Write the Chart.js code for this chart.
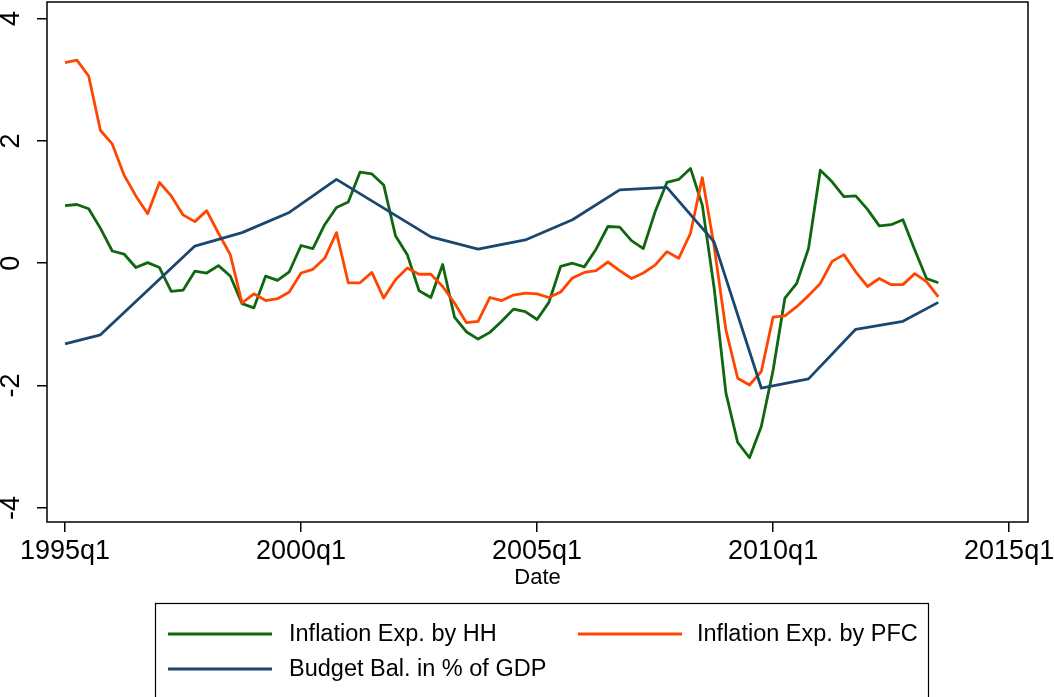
<!DOCTYPE html>
<html>
<head>
<meta charset="utf-8">
<script src="https://cdn.jsdelivr.net/npm/chart.js@4.4.1/dist/chart.umd.min.js"></script>
<style>
  html, body { margin: 0; padding: 0; background: #fff; }
  #wrap { width: 1054px; height: 697px; position: relative; }
</style>
</head>
<body>
<div id="wrap"><canvas id="myChart"></canvas></div>
<script>
// quarters counted from 1995q1 (0 = 1995q1, 4 = 1996q1, ...)
const START_YEAR = 1995;

const xTicks      = [0, 20, 40, 60, 80];
const xTickLabels = ['1995q1', '2000q1', '2005q1', '2010q1', '2015q1'];
const yTicks      = [-4, -2, 0, 2, 4];

// Inflation expectations by households, quarterly 1995q1 - 2013q3
const hhValues = [
   0.94,  0.96,  0.89,  0.57,  0.20,  0.15, -0.07,  0.01, -0.07, -0.46,
  -0.44, -0.13, -0.16, -0.04, -0.21, -0.66, -0.73, -0.21, -0.28, -0.14,
   0.29,  0.24,  0.63,  0.91,  1.00,  1.49,  1.46,  1.28,  0.45,  0.14,
  -0.45, -0.56, -0.02, -0.88, -1.12, -1.24, -1.13, -0.95, -0.75, -0.79,
  -0.92, -0.64, -0.05,  0.00, -0.06,  0.23,  0.60,  0.59,  0.37,  0.24,
   0.84,  1.32,  1.37,  1.55,  0.95, -0.40, -2.12, -2.93, -3.18, -2.67,
  -1.75, -0.57, -0.33,  0.24,  1.52,  1.33,  1.09,  1.10,  0.88,  0.61,
   0.63,  0.71,  0.22, -0.25, -0.32
];

// Inflation expectations by professional forecasters, same quarters
const pfcValues = [
   3.28,  3.32,  3.06,  2.17,  1.95,  1.44,  1.10,  0.81,  1.32,  1.10,
   0.79,  0.68,  0.86,  0.49,  0.14, -0.65, -0.50, -0.61, -0.58, -0.47,
  -0.16, -0.10,  0.08,  0.50, -0.32, -0.32, -0.15, -0.57, -0.27, -0.08,
  -0.18, -0.18, -0.38, -0.65, -0.97, -0.95, -0.56, -0.61, -0.52, -0.49,
  -0.50, -0.56, -0.47, -0.24, -0.15, -0.12,  0.02, -0.12, -0.25, -0.16,
  -0.03,  0.19,  0.08,  0.49,  1.40,  0.28, -1.09, -1.88, -1.99, -1.77,
  -0.88, -0.86, -0.71, -0.53, -0.33,  0.03,  0.14, -0.14, -0.38, -0.25,
  -0.35, -0.35, -0.17, -0.30, -0.55
];

// Budget balance in % of GDP, only observed at these quarters
const budgetQuarters = [0, 3, 11, 15, 19, 23, 31, 35, 39, 43, 47, 51, 55, 59, 63, 67, 71, 74];
const budgetValues   = [-1.32, -1.17, 0.28, 0.50, 0.83, 1.37, 0.43, 0.23, 0.38, 0.71,
                        1.20, 1.24, 0.35, -2.04, -1.89, -1.08, -0.95, -0.64];

const GREEN  = '#0f670f';
const ORANGE = '#ff4500';
const NAVY   = '#1a476f';
const FONT   = "'Liberation Sans', Arial, Helvetica, sans-serif";

function toPoints(values){
    return values.map((v, i) => ({x: i, y: v}));
}

function quarterLabel(q){
    let idx = xTicks.indexOf(q);
    if (idx >= 0) return xTickLabels[idx];
    return (START_YEAR + Math.floor(q / 4)) + 'q' + (q % 4 + 1);
}

// plot region outline (Stata style box)
const frame = {
    id: 'frame',
    afterDatasetsDraw(chart){
        const {ctx, chartArea: a} = chart;
        ctx.save();
        ctx.strokeStyle = '#000';
        ctx.lineWidth = 1.5;
        ctx.strokeRect(a.left, a.top, a.right - a.left, a.bottom - a.top);
        ctx.restore();
    }
};

// legend box below the plot, two columns
const boxLegend = {
    id: 'boxLegend',
    afterDraw(chart){
        const ctx = chart.ctx;
        const sets = chart.data.datasets;
        const slots = [
            {x: 168, y: 634, tx: 289},
            {x: 578, y: 634, tx: 697},
            {x: 168, y: 669, tx: 289}
        ];
        ctx.save();
        ctx.strokeStyle = '#000';
        ctx.lineWidth = 1.2;
        ctx.strokeRect(155.5, 603.5, 773, 110);
        ctx.font = '23.5px ' + FONT;
        ctx.textBaseline = 'middle';
        ctx.textAlign = 'left';
        sets.forEach((ds, i) => {
            let s = slots[i];
            ctx.strokeStyle = ds.borderColor;
            ctx.lineWidth = 2.8;
            ctx.beginPath();
            ctx.moveTo(s.x, s.y);
            ctx.lineTo(s.x + 104, s.y);
            ctx.stroke();
            ctx.fillStyle = '#000';
            ctx.fillText(ds.label, s.tx, s.y + 1);
        });
        ctx.restore();
    }
};

const myChart = document.getElementById('myChart');

const lineChart = new Chart(myChart, {
    type: 'line',
    data: {
        datasets: [{
            label: 'Inflation Exp. by HH',
            data: toPoints(hhValues),
            borderColor: GREEN,
            order: 2
        }, {
            label: 'Inflation Exp. by PFC',
            data: toPoints(pfcValues),
            borderColor: ORANGE,
            order: 1
        }, {
            label: 'Budget Bal. in % of GDP',
            data: budgetQuarters.map((q, i) => ({x: q, y: budgetValues[i]})),
            borderColor: NAVY,
            order: 0
        }]
    },
    options: {
        responsive: true,
        maintainAspectRatio: false,
        animation: false,
        devicePixelRatio: 1,
        layout: { padding: { top: 2, right: 26, bottom: 103, left: 0 } },
        elements: {
            line: { borderWidth: 2.8, tension: 0, fill: false, borderJoinStyle: 'round' },
            point: { radius: 0, hoverRadius: 0 }
        },
        plugins: {
            legend: { display: false },
            tooltip: { enabled: false }
        },
        scales: {
            x: {
                type: 'linear',
                min: -1.53,
                max: 81.6,
                afterBuildTicks: s => { s.ticks = xTicks.map(v => ({value: v})); },
                afterFit: s => { s.height = 72; s.paddingLeft = 0; s.paddingRight = 0; },
                border: { display: false },
                grid: { drawOnChartArea: false, drawTicks: true, tickLength: 10, color: '#000', lineWidth: 1.5 },
                ticks: {
                    color: '#000',
                    font: { family: FONT, size: 27 },
                    padding: 3,
                    maxRotation: 0,
                    autoSkip: false,
                    callback: v => quarterLabel(v)
                },
                title: {
                    display: true,
                    text: 'Date',
                    color: '#000',
                    font: { family: FONT, size: 22 },
                    padding: { top: 0, bottom: 3 }
                }
            },
            y: {
                min: -4.23,
                max: 4.27,
                afterBuildTicks: s => { s.ticks = yTicks.map(v => ({value: v})); },
                afterFit: s => { s.width = 47; s.paddingTop = 0; s.paddingBottom = 0; },
                border: { display: false },
                grid: { drawOnChartArea: false, drawTicks: true, tickLength: 10, color: '#000', lineWidth: 1.5 },
                ticks: {
                    color: '#000',
                    font: { family: FONT, size: 27 },
                    minRotation: 90,
                    maxRotation: 90,
                    crossAlign: 'center',
                    padding: 13
                }
            }
        }
    },
    plugins: [frame, boxLegend]
});
</script>
</body>
</html>
